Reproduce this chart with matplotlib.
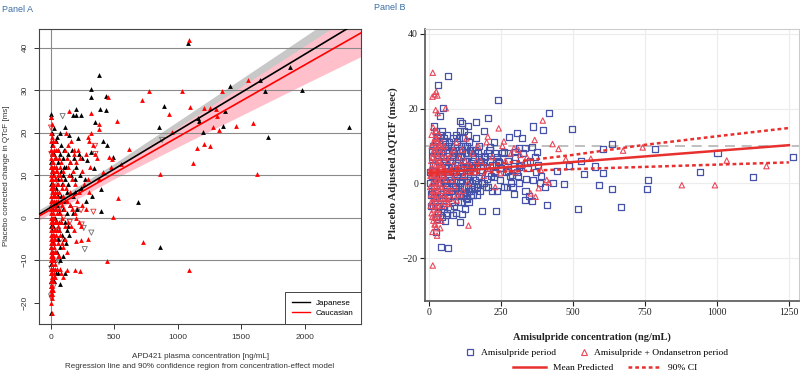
import matplotlib
matplotlib.use("Agg")
import matplotlib.pyplot as plt
from matplotlib.lines import Line2D

# ================================
# Panel A data
# ================================
# Japanese subjects, (conc ng/mL, dQTcF ms)
jp_pts = [
    (1079, 41.0), (383, 33.5), (315, 30.4), (315, 28.3), (433, 28.7), (391, 25.6), (437, 25.4),
    (199, 25.5), (173, 24.2), (199, 24.2), (239, 24.2), (113, 21.3), (352, 22.5), (147, 19.5),
    (213, 18.7), (412, 18.1), (444, 17.2), (491, 14.4), (320, 15.5), (289, 13.6), (341, 11.8),
    (399, 6.8), (325, 5.2), (396, 1.6), (690, 3.8), (850, 21.4), (890, 26.3), (864, -6.8),
    (1163, 23.5), (1171, 22.7), (1200, 20.2), (1409, 30.9), (1357, 21.6), (1373, 25.1),
    (1648, 32.5), (1688, 29.9), (1887, 35.5), (1976, 30.1), (1709, 19.1), (2346, 21.3),
    (76, -15.5), (113, -12.9), (0, 24.4), (5, -22.5), (2, 23.8),
    (10, 17), (25, 15), (40, 12), (55, 16), (70, 20), (85, 17), (95, 14), (105, 16), (120, 12),
    (135, 15), (150, 13), (165, 16), (180, 14), (200, 12), (220, 15), (250, 14), (270, 9),
    (230, 10), (190, 9), (160, 10), (140, 8), (115, 9), (100, 10), (80, 11), (60, 9), (45, 7),
    (30, 5), (15, 8), (8, 11), (20, 2), (35, 0), (50, 3), (65, 1), (80, -1), (95, 2), (110, 4),
    (125, 1), (140, -2), (155, 3), (175, 1), (195, 6), (210, 2), (65, -3), (90, -4), (105, -5),
    (120, -6), (75, -7), (50, -8), (30, -10), (15, -12), (40, -13), (5, -15), (20, -6), (10, -3),
    (60, 5), (130, 6), (175, 5), (240, 7), (280, 4), (100, -9), (145, -4), (12, 20), (28, 21),
    (50, 19), (3, 13), (2, 8), (4, 3), (1, -2), (3, -7), (2, -11),
    (7, 15), (18, 10), (33, 14), (42, 18), (58, 13), (72, 15), (88, 8), (105, 12), (22, -2),
    (38, 3), (55, -5), (85, 5), (25, -15), (12, -8), (45, -1), (9, 4), (70, -10), (60, -13),
    (112, -1), (128, -3),
]

# Caucasian subjects
ca_pts = [
    (1089, 41.8), (454, 28.5), (315, 24.6), (777, 29.8), (719, 27.7), (1037, 29.8), (1097, 26.1),
    (934, 24.5), (525, 22.8), (383, 22.0), (378, 20.8), (955, 20.2), (1210, 25.9), (1252, 25.9),
    (1304, 25.5), (1312, 23.9), (1352, 29.7), (1551, 32.5), (1459, 21.6), (1590, 22.4),
    (1276, 21.3), (1325, 20.6), (1207, 17.3), (1257, 16.9), (1150, 16.3), (1118, 12.9),
    (861, 10.4), (1627, 10.4), (614, 16.2), (551, 12.6), (478, 12.0), (530, 4.7), (491, 0.1),
    (730, -5.7), (444, -10.1), (1089, -12.2), (231, -12.5), (192, -12.2), (131, -12.2),
    (199, -5.4), (297, -5.1), (236, -5.3), (276, 2.0), (304, 6.0), (415, 10.7), (144, 25.2),
    (0, 23.6), (459, 14.4), (480, 13.8),
    (2, 20), (4, 18), (6, 16), (3, 14), (8, 13), (5, 12), (10, 11), (2, 10), (7, 9), (12, 8),
    (4, 7), (9, 6), (15, 5), (3, 4), (6, 3), (11, 2), (2, 1), (8, 0), (5, -1), (13, -2), (3, -3),
    (7, -4), (10, -5), (2, -6), (6, -7), (4, -8), (9, -9), (3, -10), (7, -11), (5, -12), (2, -13),
    (8, -14), (4, -15), (6, -16), (3, -17), (10, -18), (14, -19), (12, -22.5),
    (18, 15), (22, 13), (16, 11), (25, 10), (20, 8), (28, 7), (17, 6), (24, 4), (30, 3), (19, 1),
    (26, 0), (21, -1), (32, -3), (18, -4), (27, -6), (23, -7), (15, -9), (29, -10), (20, -12),
    (25, -14), (17, -15), (14, -13), (22, -8),
    (35, 18), (40, 16), (45, 14), (38, 12), (50, 11), (42, 9), (55, 8), (48, 6), (36, 5), (60, 4),
    (44, 2), (52, 1), (39, -1), (58, -2), (46, -3), (34, -5), (54, -6), (41, -8), (37, -11),
    (49, -12), (33, -14),
    (65, 14), (70, 12), (75, 10), (80, 13), (85, 9), (90, 7), (95, 11), (100, 8), (68, 6), (78, 4),
    (88, 3), (98, 5), (105, 2), (72, 1), (82, -1), (92, 0), (110, -2), (66, -3), (76, -4), (86, -6),
    (96, -7), (115, -5), (125, -8), (74, -12), (84, -13), (94, -14),
    (115, 16), (125, 14), (135, 12), (145, 10), (155, 13), (165, 9), (175, 11), (185, 15), (195, 8),
    (120, 20), (140, 17), (160, 18), (180, 16), (200, 13), (215, 16), (230, 14), (250, 11),
    (260, 8), (275, 15), (290, 19), (305, 18), (320, 20), (335, 17), (350, 15), (365, 14),
    (380, 9), (295, 9), (310, 12), (130, 4), (150, 3), (170, 2), (190, 1), (210, 4), (225, 6),
    (245, 3), (140, -1), (160, -2), (180, -3), (200, 0), (220, -1), (240, -2), (150, 6), (120, 7),
    (1, 16), (3, 12), (5, 9), (7, 7), (1, 5), (4, 2), (6, 0), (1, -4), (5, -5), (8, -8), (2, -9),
    (6, -10), (1, -12), (4, -13), (7, -15), (2, -16), (9, -17), (5, -18), (11, 15), (13, 12),
    (14, 9), (16, 7), (12, 4), (15, 1), (13, -1), (16, -4), (11, -6), (14, -8), (12, -10),
    (16, -12), (11, -14), (13, -16), (19, 17), (21, 11), (23, 5), (20, 3), (22, 0), (24, -3),
    (26, -5), (19, -10), (23, -13), (28, 12), (31, 9), (33, 6), (35, 2), (31, -1), (29, -4),
    (34, -8), (31, -12), (37, 14), (43, 11), (47, 8), (51, 5), (40, 4), (53, -1), (44, -4),
    (57, 10), (62, 2), (64, -1), (69, -9), (58, -9), (61, 16), (9, 19), (17, 18), (27, 16),
    (11, 22), (6, -20), (16, -17),
]

# open down-triangles (grey = Japanese, red = Caucasian)
blq_jp_pts = [
    (94, 23.9), (260, -2.4), (320, -3.5), (268, -7.4), (65, -10.4), (877, 18.3), (3, -18.5),
    (10, -16), (5, -12), (20, -8), (40, -5), (60, -3), (30, 8), (15, 12), (70, 2),
]
blq_ca_pts = [
    (336, 1.4), (239, 1.8), (244, -1.6), (3, 21.2), (349, 16.9), (352, 15.0), (5, 15), (8, -19),
    (25, -16), (45, 3), (80, -5), (100, 0), (150, -1), (190, 2),
]

# regression lines and 90% bands
band_x = [-100, 0, 500, 1000, 1500, 2000, 2500]
jp_mean = [0.65, 2.45, 11.45, 20.45, 29.45, 38.45, 47.45]
jp_lo = [-0.45, 1.45, 10.15, 18.25, 26.25, 34.25, 42.15]
jp_hi = [1.75, 3.45, 12.75, 22.65, 32.65, 42.65, 52.75]
ca_mean = [0.25, 1.95, 10.45, 18.95, 27.45, 35.95, 44.45]
ca_lo = [-0.75, 1.05, 9.15, 16.65, 24.05, 31.45, 38.75]
ca_hi = [1.25, 2.85, 11.75, 21.25, 30.85, 40.45, 50.15]

# ================================
# Panel B data
# ================================
ami_pts = [
    (65, 28.6), (30, 26.3), (47, 20.1), (240, 22.3), (418, 18.7), (205, 17.4), (38, 17.9),
    (16, 15.2), (108, 16.8), (115, 16.1), (164, 16.4), (134, 15.4), (362, 15.2), (498, 14.6),
    (395, 14.2), (304, 13.4), (278, 12.3), (324, 12.1), (634, 10.4), (605, 9.1), (784, 9.3),
    (1002, 8.2), (1264, 7.1), (940, 2.9), (1124, 1.8), (760, 0.9), (758, -1.6), (668, -6.3),
    (636, -1.4), (591, -0.5), (578, 4.5), (603, 2.7), (538, 2.5), (528, 6.0), (486, 4.7),
    (519, -6.9), (410, -5.8), (468, -0.1), (443, 3.4), (432, 0.2), (402, -0.9), (384, 0.1),
    (356, -4.7), (346, -3.4), (332, -4.5), (336, 1.25), (295, -2.9), (286, 0.0), (270, -0.9),
    (234, -7.3), (184, -7.3), (109, -10.3), (115, -8.3), (83, -8.5), (60, -8.5), (27, -9.6),
    (24, -13.1), (41, -17.0), (65, -17.3), (131, -4.2), (131, -3.1), (149, -1.5), (170, -0.1),
    (225, 1.8), (200, 1.2), (192, 7.4), (177, 5.8), (211, 9.8), (191, 14.1), (237, 7.1),
    (260, 8.5), (275, 8.0), (297, 8.4), (314, 9.4), (333, 9.4), (358, 9.8), (374, 8.5),
    (368, 7.1), (339, 5.5), (311, 4.5), (273, 3.4), (242, 5.8), (247, 4.0), (289, 2.2),
    (310, 2.0), (295, 4.5), (229, 2.7),
    (5, 0), (8, -3), (12, 2), (15, 5), (18, -1), (20, 8), (22, -5), (25, 3), (28, 12), (30, -8),
    (32, 6), (35, 0), (38, 10), (40, -3), (42, 4), (45, 14), (48, -6), (50, 7), (52, 1), (55, 11),
    (58, -2), (60, 5), (62, 13), (65, -4), (68, 8), (70, 2), (72, -7), (75, 10), (78, 0), (80, 6),
    (82, -1), (85, 12), (88, 3), (90, -3), (92, 8), (95, 1), (98, 11), (100, -2), (102, 5),
    (105, 9), (108, 0), (110, -5), (112, 7), (115, 3), (118, 12), (120, -1), (122, 4), (125, 10),
    (128, -4), (130, 6), (132, 1), (135, 8), (138, -2), (140, 11), (142, 3), (145, 5), (148, 0),
    (150, 9), (152, -3), (155, 4), (158, 7), (160, 1), (162, 12), (165, -1), (168, 5), (170, 8),
    (172, 2), (175, 10), (178, -2), (180, 6), (185, 3), (190, 0), (195, 7), (200, 4), (205, -1),
    (210, 9), (215, 2), (220, 5), (225, 11), (230, 3), (235, -2), (240, 6), (245, 1), (250, 4),
    (255, 8), (262, -1), (268, 3), (275, 6), (282, 2), (290, -1), (298, 7), (305, 3), (312, 0),
    (320, 5), (328, 8), (335, -2), (342, 4), (350, 6), (360, 1), (370, 3), (380, 5), (390, 2),
    (10, 9), (14, -6), (24, 14), (26, -9), (34, -4), (36, 9), (44, -9), (46, 2), (54, -10),
    (56, 4), (64, -8), (66, 10), (74, 3), (76, -2), (84, 7), (86, -6), (94, 13), (96, 4),
    (104, -3), (106, 14), (114, -1), (116, 9), (124, 6), (126, -7), (134, 13), (136, 2),
    (144, -3), (146, 8),
    (3, 3), (6, -6), (9, 7), (11, -2), (13, 10), (16, 1), (19, -4), (21, 5), (23, 11), (27, -2),
    (29, 7), (31, 2), (33, -6), (37, 4), (39, 13), (41, 0), (43, 8), (47, -4), (49, 3), (51, 12),
    (53, -7), (57, 6), (59, 0), (61, 9), (63, -1), (67, 4), (69, 11), (71, -3), (73, 6), (77, 1),
    (79, 9), (81, -5), (83, 3), (87, 8), (89, -1), (91, 5), (93, -8), (97, 2), (99, 7), (101, -5),
    (103, 12), (107, 3), (109, -2), (111, 10), (113, 1), (117, -3), (119, 6), (121, 14), (123, 2),
    (127, 8), (129, -1), (131, 4), (133, 10), (137, -5), (139, 5), (141, 1), (143, 9), (147, -2),
    (149, 4), (153, 6), (157, -1), (161, 9), (163, 3), (167, -3), (173, 7), (183, 0), (188, 5),
    (198, -1), (203, 8), (213, 6), (218, -2), (228, 8), (233, 5),
]

ond_pts = [
    (13, 29.6), (12, 23.2), (20, 23.8), (25, 24.5), (29, 23.5), (58, 20.1), (23, 19.6), (30, 18.8),
    (242, 14.7), (395, 16.8), (367, 11.6), (429, 10.5), (450, 9.2), (260, 11.2), (562, 6.6),
    (674, 8.75), (742, 9.6), (1034, 6.1), (1172, 4.6), (878, -0.5), (993, -0.5), (475, 6.4),
    (381, -1.3), (370, -3.6), (353, -2.7), (409, 0.9), (416, 0.2), (388, 3.6), (137, -11.3),
    (13, -22.0), (96, -4.6), (69, -5.5), (204, 12.5), (295, 9.4), (317, 7.6), (247, 2.7),
    (5, 2), (7, -3), (8, 6), (9, -8), (10, 10), (11, 0), (12, 4), (13, -5), (14, 8), (15, -10),
    (16, 2), (17, 11), (18, -2), (19, 6), (20, -6), (21, 3), (22, -11), (23, 9), (24, -1), (25, 5),
    (26, -4), (27, 12), (28, 1), (29, -7), (30, 7), (31, -3), (32, 4), (33, -9), (34, 10), (35, 0),
    (36, 6), (37, -5), (38, 3), (39, -12), (40, 8), (42, -1), (44, 5), (46, -6), (48, 2), (50, 9),
    (52, -3), (54, 4), (56, -5), (58, 7), (60, 1), (63, -4), (66, 6), (70, 3), (74, -2), (78, 8),
    (82, 1), (86, 5), (90, -1), (95, 11), (100, 4), (105, 7), (110, -3), (115, 9), (120, 2),
    (125, 6), (130, 12), (135, 0), (140, 5), (150, 8), (160, 3), (170, 10), (180, 6), (190, 2),
    (200, 11), (210, 4), (220, 7), (230, -1), (255, 10), (265, 6), (275, 4), (285, 8), (300, 3),
    (310, 9), (325, 5), (340, 7), (12, -13), (18, -9), (24, -12), (30, -10), (6, -6), (9, 13),
    (14, 15), (20, 12), (26, 14), (35, 13), (45, 11), (55, -4), (65, -5), (28, -14),
    (4, -1), (6, 4), (8, -5), (10, 2), (11, -9), (12, 7), (14, -3), (15, 11), (16, -7), (17, 3),
    (18, 9), (19, -11), (20, 0), (21, 6), (22, -4), (23, 14), (24, 2), (25, -8), (26, 8), (27, -2),
    (28, 4), (29, 11), (30, -6), (31, 1), (32, 9), (33, -1), (34, 5), (36, -8), (37, 2), (38, 10),
    (40, -4), (41, 5), (43, -10), (45, 1), (47, 7), (49, -2), (51, 4), (53, 10), (57, -1), (62, 3),
    (67, -2), (72, 7), (77, -4), (85, 9), (92, 2), (98, -3), (108, 5), (118, -2), (145, 3), (165, 6),
]

conc_b = [0, 250, 500, 750, 1000, 1250]
mean_b = [2.7, 4.2, 5.7, 7.2, 8.7, 10.2]
ci_lo_b = [2.1, 3.1, 3.8, 4.4, 5.0, 5.6]
ci_hi_b = [3.3, 5.3, 7.6, 10.3, 12.6, 14.8]

SANS = "Liberation Sans"
SERIF = "Liberation Serif"
BLUE_TXT = "#3b6ea5"

fig = plt.figure(figsize=(8, 3.74), dpi=100)

# ================================
# PANEL A
# ================================
axA = fig.add_axes([39 / 800, 1 - 324 / 374, 322 / 800, 295 / 374])
axA.set_xlim(-92, 2443)
axA.set_ylim(-25, 44.4)

axA.fill_between(band_x, jp_lo, jp_hi, color="#c8c8c8", lw=0, zorder=0.5)
axA.fill_between(band_x, ca_lo, ca_hi, color="#ffc0cb", lw=0, zorder=0.6)
for yv in [-10, 0, 10, 20, 30, 40]:
    axA.axhline(yv, color="#8a8a8a", lw=0.8, zorder=1)
axA.axvline(0, color="#8a8a8a", lw=0.8, zorder=1)

x, y = zip(*blq_jp_pts)
axA.scatter(x, y, marker="v", s=14, facecolors="none", edgecolors="#707070", lw=0.6, zorder=2)
x, y = zip(*blq_ca_pts)
axA.scatter(x, y, marker="v", s=14, facecolors="none", edgecolors="#e03030", lw=0.6, zorder=2)
x, y = zip(*jp_pts)
axA.scatter(x, y, marker="^", s=12, color="black", lw=0, zorder=3)
x, y = zip(*ca_pts)
axA.scatter(x, y, marker="^", s=12, color="#ff0000", lw=0, zorder=3.1)

axA.plot(band_x, jp_mean, color="black", lw=1.2, zorder=4)
axA.plot(band_x, ca_mean, color="#ff0000", lw=1.2, zorder=4)

axA.set_xticks([0, 500, 1000, 1500, 2000])
axA.set_yticks([-20, -10, 0, 10, 20, 30, 40])
axA.tick_params(direction="out", length=3.5, width=0.7, labelsize=6, colors="#333333", pad=4)
for lab in axA.get_yticklabels():
    lab.set_rotation(90)
    lab.set_va("center")
for lab in axA.get_xticklabels() + axA.get_yticklabels():
    lab.set_family(SANS)
for sp in axA.spines.values():
    sp.set_color("#444444")
    sp.set_linewidth(0.8)

legA = axA.legend(
    [Line2D([], [], color="black", lw=1), Line2D([], [], color="#ff0000", lw=1)],
    ["Japanese", "Caucasian"],
    loc="lower right", borderaxespad=0, fancybox=False, framealpha=1,
    edgecolor="#444444", prop={"family": SANS, "size": 5.8},
    handlelength=2.2, borderpad=0.9, labelspacing=0.3,
)
legA.get_frame().set_linewidth(0.7)

fig.text(7 / 800, 1 - 176 / 374, "Placebo corrected change in QTcF [ms]", rotation=90,
         ha="center", va="center", family=SANS, fontsize=5.8, color="#333333")
fig.text(200 / 800, 1 - 357 / 374, "APD421 plasma concentration [ng/mL]",
         ha="center", va="center", family=SANS, fontsize=5.8, color="#333333")
fig.text(200 / 800, 1 - 366 / 374,
         "Regression line and 90% confidence region from concentration-effect model",
         ha="center", va="center", family=SANS, fontsize=5.8, color="#333333")
fig.text(2 / 800, 1 - 10 / 374, "Panel A", ha="left", va="center", family=SANS,
         fontsize=6.5, color=BLUE_TXT)

# ================================
# PANEL B
# ================================
axB = fig.add_axes([425 / 800, 1 - 301 / 374, 374 / 800, 272 / 374])
axB.set_xlim(-14, 1285)
axB.set_ylim(-31.5, 41.3)
axB.set_axisbelow(True)
axB.grid(True, color="#ececec", lw=0.8)
axB.axhline(10, color="#b4b4b4", lw=1.2, ls=(0, (6, 4)), zorder=1.5)

x, y = zip(*ami_pts)
axB.scatter(x, y, marker="s", s=19, facecolors="none", edgecolors="#4552a8", lw=0.9, zorder=2)
x, y = zip(*ond_pts)
axB.scatter(x, y, marker="^", s=15, facecolors="none", edgecolors="#e8485a", lw=0.8, zorder=2.1)

axB.plot(conc_b, mean_b, color="#e8302e", lw=1.8, zorder=4)
axB.plot(conc_b, ci_lo_b, color="#e8302e", lw=1.8, ls=(0, (1.5, 1.2)), zorder=4)
axB.plot(conc_b, ci_hi_b, color="#e8302e", lw=1.8, ls=(0, (1.5, 1.2)), zorder=4)

axB.set_xticks([0, 250, 500, 750, 1000, 1250])
axB.set_yticks([-20, 0, 20, 40])
axB.tick_params(direction="out", length=3.5, width=0.8, labelsize=7, colors="#222222", pad=1.5)
for lab in axB.get_xticklabels() + axB.get_yticklabels():
    lab.set_family(SERIF)
for side in ["left", "bottom"]:
    axB.spines[side].set_color("#555555")
    axB.spines[side].set_linewidth(1.2)
for side in ["top", "right"]:
    axB.spines[side].set_color("#cccccc")
    axB.spines[side].set_linewidth(0.8)

fig.text(393 / 800, 1 - 163 / 374, "Placebo Adjusted \u0394QTcF (msec)", rotation=90,
         ha="center", va="center", family=SERIF, fontweight="bold", fontsize=8, color="#222222")
fig.text(592 / 800, 1 - 337 / 374, "Amisulpride concentration (ng/mL)", ha="center",
         va="center", family=SERIF, fontweight="bold", fontsize=7.5, color="#222222")
fig.text(374 / 800, 1 - 7 / 374, "Panel B", ha="left", va="center", family=SANS,
         fontsize=6.5, color=BLUE_TXT)

leg_font = {"family": SERIF, "size": 6.8}
fig.legend(
    [Line2D([], [], ls="none", marker="s", ms=4, mfc="none", mec="#4552a8", mew=0.9),
     Line2D([], [], ls="none", marker="^", ms=4, mfc="none", mec="#e8485a", mew=0.8)],
    ["Amisulpride period", "Amisulpride + Ondansetron period"],
    loc="center", bbox_to_anchor=(597 / 800, 1 - 353 / 374), ncol=2, frameon=False,
    prop=leg_font, handlelength=1.0, handletextpad=0.6, columnspacing=2.5, borderpad=0,
)
fig.legend(
    [Line2D([], [], color="#e8302e", lw=1.8),
     Line2D([], [], color="#e8302e", lw=1.8, ls=(0, (1.5, 1.2)))],
    ["Mean Predicted", "90% CI"],
    loc="center", bbox_to_anchor=(605 / 800, 1 - 368 / 374), ncol=2, frameon=False,
    prop=leg_font, handlelength=3.5, handletextpad=0.8, columnspacing=1.5, borderpad=0,
)

fig.savefig("out.png", dpi=100)
print("Saved: out.png")
